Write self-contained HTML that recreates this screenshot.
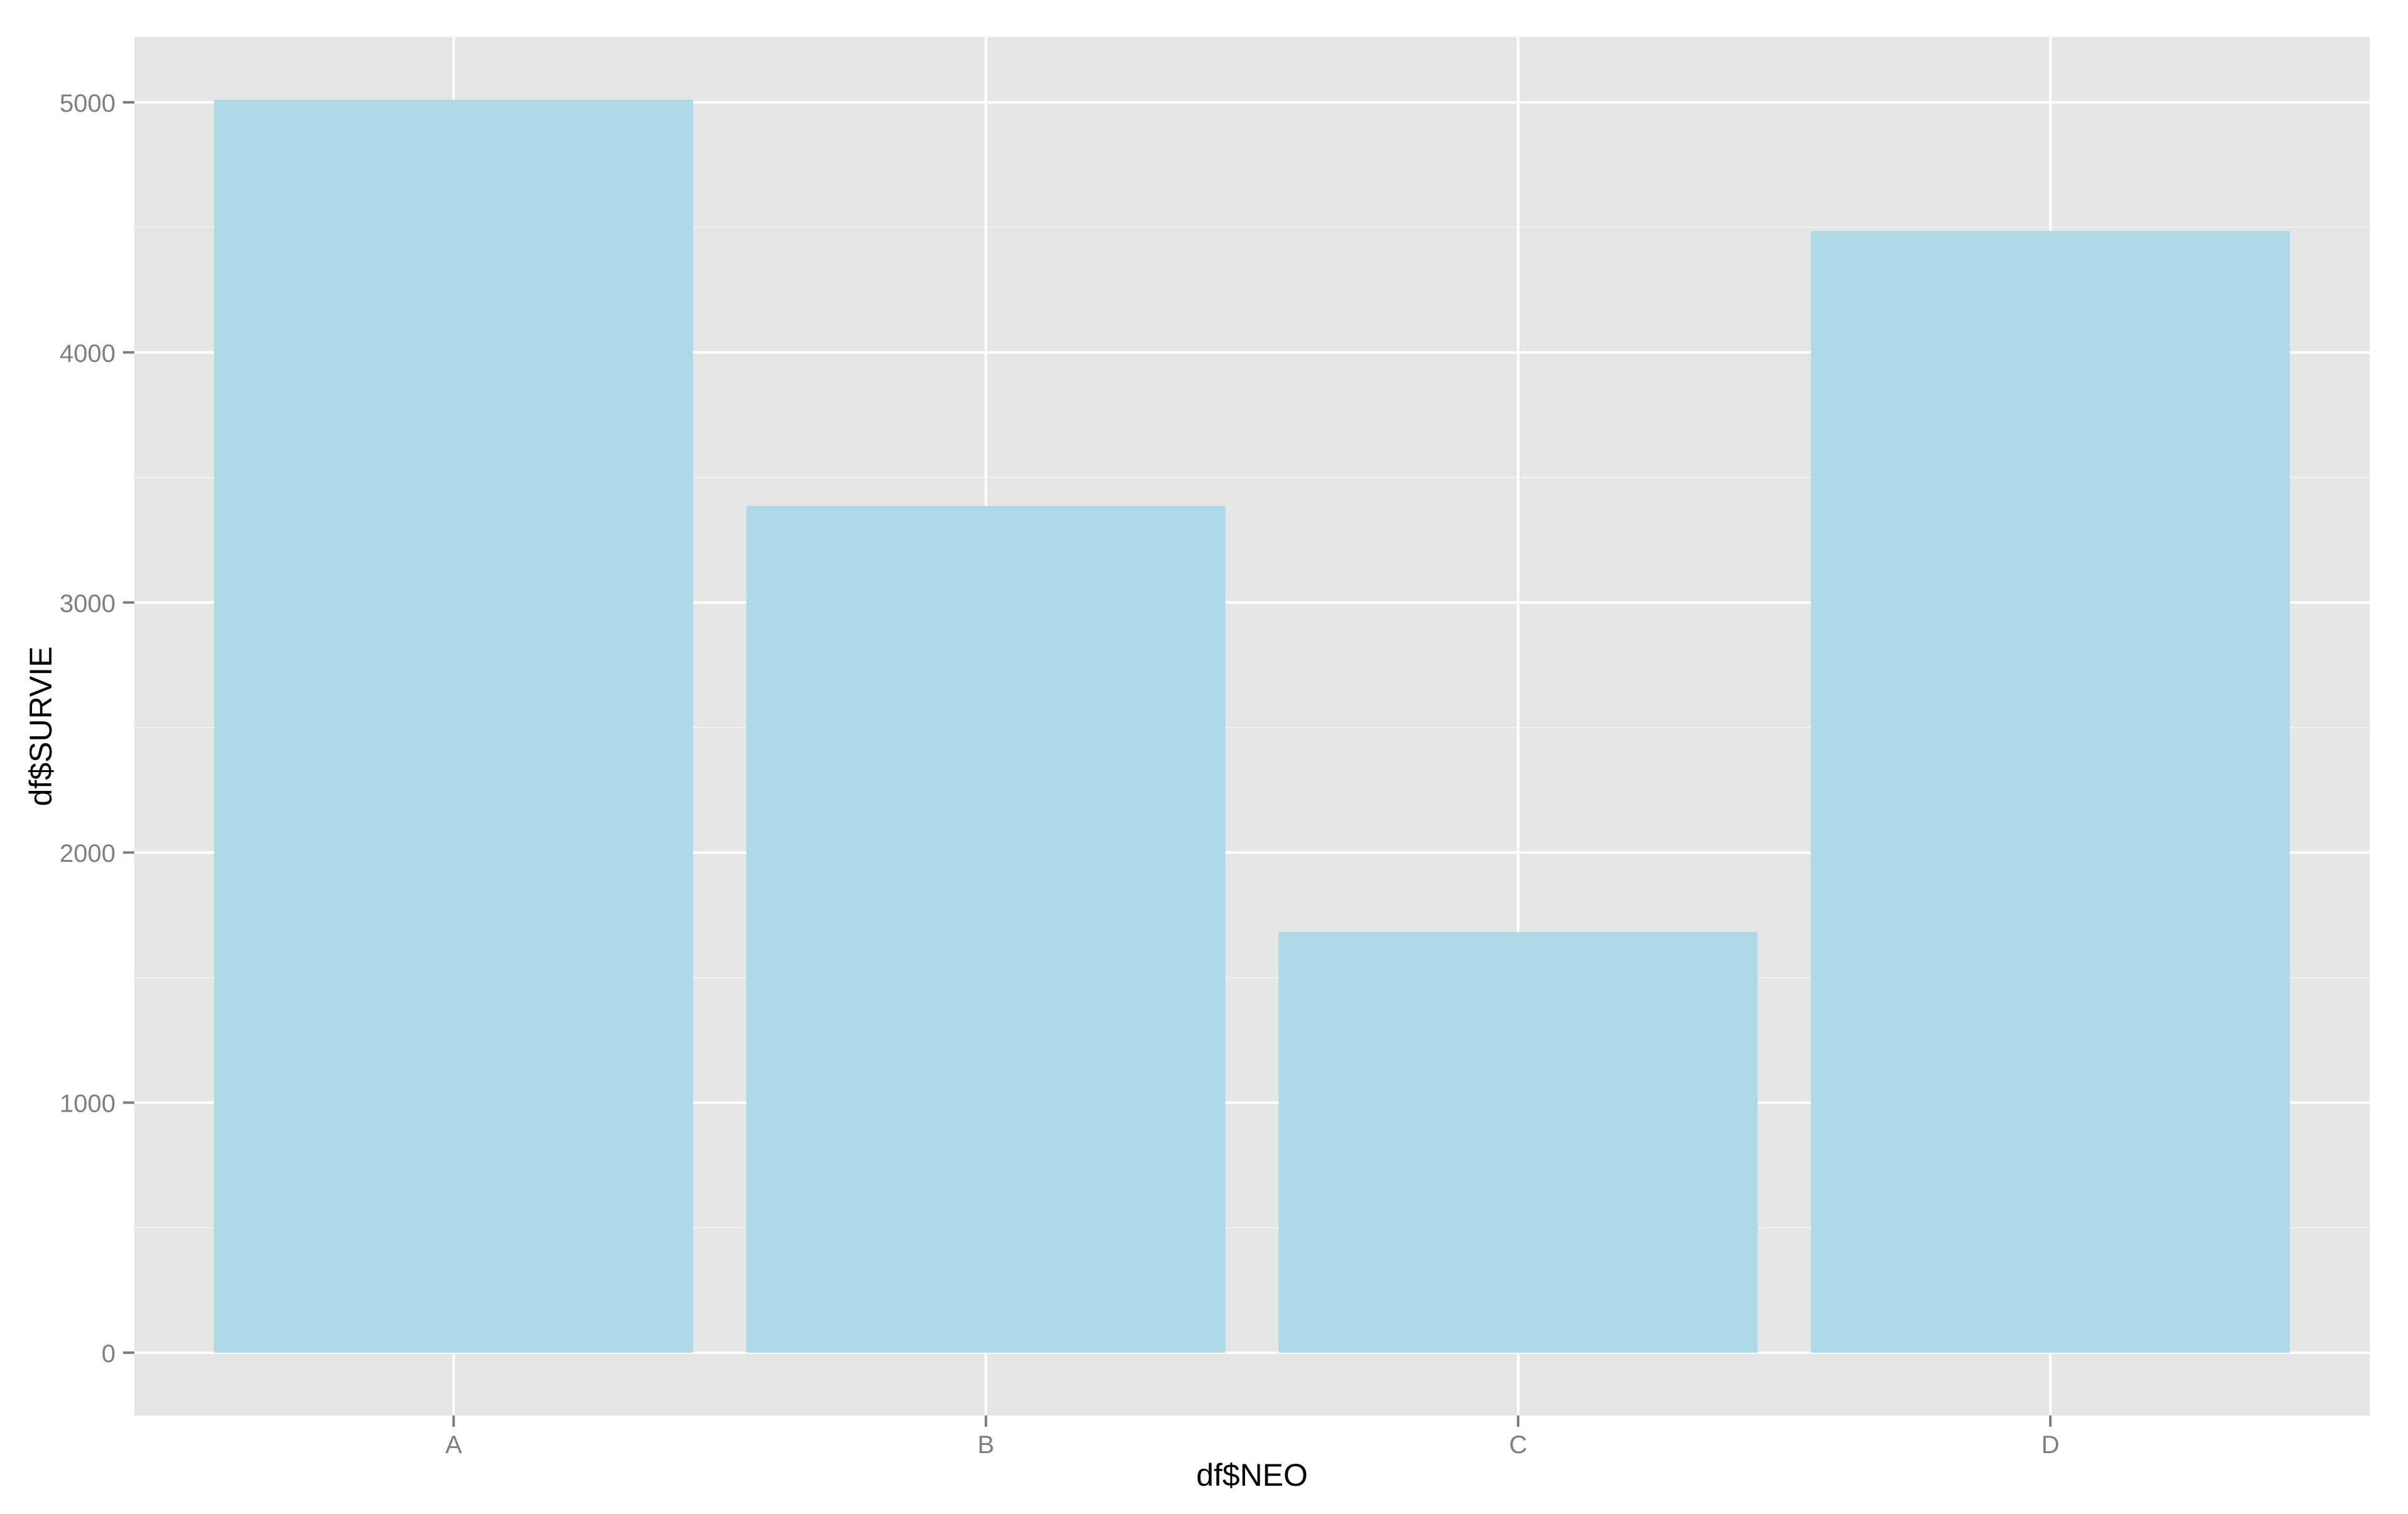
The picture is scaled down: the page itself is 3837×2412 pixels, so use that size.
<!DOCTYPE html>
<html lang="en">
<head>
<meta charset="utf-8">
<title>df$SURVIE by df$NEO</title>
<style>
html,body{margin:0;padding:0;background:#fff;width:3837px;height:2412px;overflow:hidden}
svg{display:block}
text{font-family:"Liberation Sans",Arial,sans-serif}
</style>
</head>
<body>
<svg id="chart" xmlns="http://www.w3.org/2000/svg" width="3837" height="2412" viewBox="0 0 3837 2412">
  <rect x="0" y="0" width="3837" height="2412" fill="#ffffff"></rect>
  <rect x="214" y="59" width="3562" height="2196" fill="#e5e5e5"></rect>
  <g id="minor-grid"></g>
  <g id="major-grid"></g>
  <g id="bars"></g>
  <g id="y-axis"></g>
  <g id="x-axis"></g>
  <text x="1995" y="2367" font-size="50" text-anchor="middle" fill="#000000">df$NEO</text>
  <text transform="translate(82,1157) rotate(-90)" font-size="50" text-anchor="middle" fill="#000000">df$SURVIE</text>
</svg>
<script>
const categories = ['A', 'B', 'C', 'D'];
const survieValues = [5010, 3386, 1682, 4485];
const yTickValues = [0, 1000, 2000, 3000, 4000, 5000];
const yTickLabels = ['0', '1000', '2000', '3000', '4000', '5000'];
const yMinorValues = [500, 1500, 2500, 3500, 4500];

const NS = 'http://www.w3.org/2000/svg';
const panelLeft = 214;
const panelRight = 3776;
const panelTop = 59;
const panelBottom = 2255;
const zeroY = 2155;
const pixelsPerUnit = 0.3984;
const bandStep = (panelRight - panelLeft) / (categories.length + 0.2);
const barWidth = bandStep * 0.9;

function yScale(value) {
  return zeroY - value * pixelsPerUnit;
}
function xScale(index) {
  return panelLeft + bandStep * (index + 0.6);
}
function makeRect(x, y, width, height, fill) {
  const el = document.createElementNS(NS, 'rect');
  el.setAttribute('x', x);
  el.setAttribute('y', y);
  el.setAttribute('width', width);
  el.setAttribute('height', height);
  el.setAttribute('fill', fill);
  return el;
}
function makeText(x, y, anchor, content) {
  const el = document.createElementNS(NS, 'text');
  el.setAttribute('x', x);
  el.setAttribute('y', y);
  el.setAttribute('text-anchor', anchor);
  el.setAttribute('font-size', 40);
  el.setAttribute('fill', '#7f7f7f');
  el.textContent = content;
  return el;
}

const minorGrid = document.getElementById('minor-grid');
const majorGrid = document.getElementById('major-grid');
const barsGroup = document.getElementById('bars');
const yAxis = document.getElementById('y-axis');
const xAxis = document.getElementById('x-axis');

yMinorValues.forEach(function (value) {
  const line = makeRect(panelLeft, yScale(value) - 1, panelRight - panelLeft, 2, '#f2f2f2');
  
  
  minorGrid.appendChild(line);
});

yTickValues.forEach(function (value, i) {
  const y = yScale(value);

  const line = makeRect(panelLeft, y - 2, panelRight - panelLeft, 4, '#ffffff');
  
  
  majorGrid.appendChild(line);

  const tick = makeRect(196, y - 2, 18, 4, '#7f7f7f');
  
  
  yAxis.appendChild(tick);

  const label = makeText(184, y + 15, 'end', yTickLabels[i]);
  
  
  yAxis.appendChild(label);
});

categories.forEach(function (category, i) {
  const x = xScale(i);

  const line = makeRect(x - 2, panelTop, 4, panelBottom - panelTop, '#ffffff');
  
  
  majorGrid.appendChild(line);

  const barTop = yScale(survieValues[i]);
  const bar = makeRect(x - barWidth / 2, barTop, barWidth, zeroY - barTop, '#add8e6');
  
  
  barsGroup.appendChild(bar);

  const tick = makeRect(x - 2, panelBottom, 4, 18, '#7f7f7f');
  
  
  xAxis.appendChild(tick);

  const label = makeText(x, 2315, 'middle', category);
  
  
  xAxis.appendChild(label);
});
</script>
</body>
</html>
